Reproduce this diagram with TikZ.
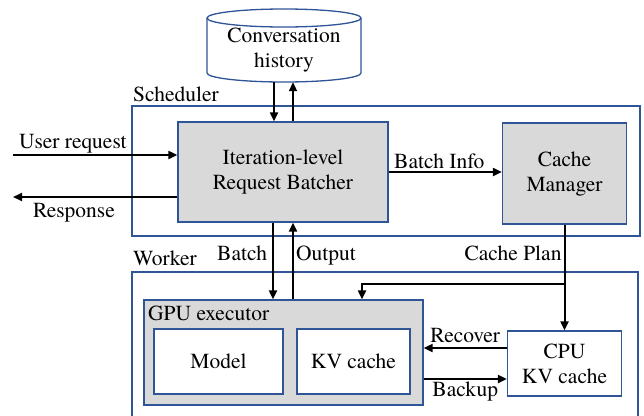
\documentclass[tikz,border=0pt]{standalone}
\usepackage{fontspec}
\setmainfont{texgyretermes}[Extension=.otf, UprightFont=*-regular, BoldFont=*-bold]
\usetikzlibrary{arrows.meta}
\definecolor{boxblue}{HTML}{2F5597}
\definecolor{boxgray}{HTML}{D9D9D9}
\begin{document}
\begin{tikzpicture}[x=1pt,y=-1pt,
    font=\fontsize{21.5}{25}\selectfont,
    frame/.style={draw=boxblue, line width=1.3pt},
    graybox/.style={frame, fill=boxgray, align=center},
    whitebox/.style={frame, fill=white, align=center},
    flow/.style={line width=2pt, -{Triangle[length=9pt,width=8pt]}},
    tag/.style={inner sep=0pt}]
\useasboundingbox (0,0) rectangle (644,415);
\draw[frame] (132,106) rectangle (640,236);
\node[tag, anchor=base west] (sched) at (133,101) {Scheduler};
\draw[frame] (132,420) -- (132,272) -- (638,272) -- (638,420);
\node[tag, anchor=base west] (work) at (133,265) {Worker};
\draw[frame, fill=white] (207,18) -- (207,73)
    arc[start angle=180, end angle=0, x radius=77, y radius=9] -- (361,18);
\draw[frame, fill=white] (284,18) ellipse[x radius=77, y radius=9];
\node[align=center, minimum width=154pt, minimum height=64pt] (hist) at (284,50) {Conversation\\history};
\node[graybox, minimum width=210pt, minimum height=100pt] (batcher) at (283,172) {Iteration-level\\Request Batcher};
\node[graybox, minimum width=124pt, minimum height=101pt] (cman) at (564.5,173.5) {Cache\\Manager};
\node[graybox, minimum width=279pt, minimum height=105pt] (gpu) at (283.5,352.5) {};
\node[tag, anchor=base west] (gpulbl) at (148,320) {GPU executor};
\node[whitebox, minimum width=129pt, minimum height=65pt] (model) at (218.5,361.5) {Model};
\node[whitebox, minimum width=113pt, minimum height=65pt] (gkv) at (353.5,361.5) {KV cache};
\node[whitebox, minimum width=114pt, minimum height=65pt] (cpu) at (564.5,363.5) {CPU\\KV cache};
\coordinate (uin) at (13,155);
\coordinate (rout) at (13,197);
\coordinate (split) at (564.5,284);
\coordinate (turn) at (362,284);
\draw[flow] ([xshift=-10pt]hist.south) -- ([xshift=-9pt]batcher.north);
\draw[flow] ([xshift=10pt]batcher.north) -- ([xshift=9pt]hist.south);
\draw[flow] (uin) -- (uin -| batcher.west)
    node[tag, pos=0, anchor=base west, shift={(5pt,7pt)}] {User request};
\draw[flow] (batcher.west |- rout) -- (rout)
    node[tag, pos=1, anchor=base west, shift={(19pt,-20pt)}] {Response};
\draw[flow] (batcher.east) -- (batcher.east -| cman.west)
    node[tag, midway, anchor=base, shift={(-6pt,4pt)}] {Batch Info};
\draw[flow] ([xshift=-10pt]batcher.south) -- ([xshift=-10.5pt]gpu.north)
    node[tag, midway, anchor=base east, shift={(-5pt,1pt)}] {Batch};
\draw[flow] ([xshift=9.5pt]gpu.north) -- ([xshift=10pt]batcher.south)
    node[tag, midway, anchor=base west, shift={(2pt,1pt)}] {Output};
\draw[flow] (cman.south) -- (cpu.north)
    node[tag, pos=0.336, anchor=base east, xshift=-2pt] {Cache Plan};
\draw[flow] (split) -- (turn) -- (turn |- gpu.north);
\draw[flow] ([yshift=15.5pt]cpu.west) -- ([yshift=15.5pt]cpu.west -| gpu.east)
    node[tag, midway, anchor=base, yshift=6pt] {Recover};
\draw[flow] ([yshift=-15.5pt]cpu.west -| gpu.east) -- ([yshift=-15.5pt]cpu.west)
    node[tag, midway, anchor=base, yshift=-17pt] {Backup};
\end{tikzpicture}
\end{document}
